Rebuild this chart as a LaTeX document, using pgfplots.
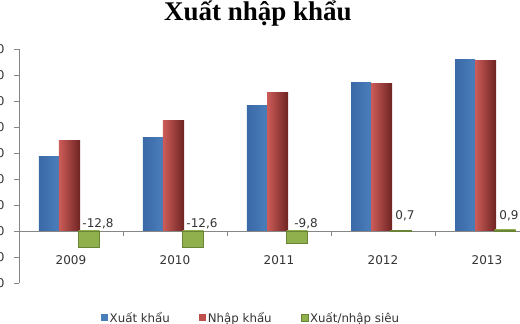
\documentclass[border=0pt]{standalone}
\usepackage{fontspec}
\setmainfont{DejaVu Sans}
\newfontfamily\titlefont{Liberation Serif}
\usepackage{pgfplots}
\pgfplotsset{compat=1.18}
\definecolor{bM}{HTML}{4A7EBB}
\definecolor{bL}{HTML}{5E92D2}
\definecolor{bD}{HTML}{3A69A6}
\definecolor{rM}{HTML}{C0504D}
\definecolor{rL}{HTML}{CC5C59}
\definecolor{rD}{HTML}{6E2422}
\definecolor{gM}{HTML}{8FB04C}
\definecolor{gL}{HTML}{B9D670}
\definecolor{gD}{HTML}{6A8436}
\definecolor{axgray}{HTML}{868686}
\definecolor{txt}{HTML}{333333}
\pgfplotstableread{
x exp imp bal
0 57.1 69.9 -12.8
1 72.2 84.8 -12.6
2 96.9 106.7 -9.8
3 114.6 113.8 0.7
4 132.2 131.3 0.9
}\data
\pgfplotsset{
  bluebar/.style={ybar, bar width=20pt, bar shift=-22pt, draw=none,
    left color=bD, middle color=bL, right color=bM},
  redbar/.style={ybar, bar width=21pt, bar shift=-1.5pt, draw=none,
    left color=rL, middle color=rM, right color=rD},
  greenbar/.style={ybar, bar width=21pt, bar shift=18pt, draw=gD, line width=0.6pt,
    left color=gM, middle color=gL, right color=gM},
}
\begin{document}
\begin{tikzpicture}[x=1pt,y=1pt]
\clip (-19,-41) rectangle (501,283);
\begin{axis}[
  at={(0,0)}, anchor=south west,
  scale only axis, width=520pt, height=234pt,
  xmin=-0.5, xmax=4.5, ymin=-40, ymax=140,
  axis x line*=middle, axis y line*=left,
  axis line style={axgray},
  ytick={-40,-20,...,140},
  yticklabel style={font=\fontsize{12}{14}\selectfont, text=txt, xshift=-6pt},
  ytick style={axgray},
  major tick length=5pt,
  tick align=outside,
  /pgf/number format/assume math mode=true,
  xtick={0,...,4},
  xticklabels={2009,2010,2011,2012,2013},
  xtick style={draw=none},
  xticklabel style={font=\fontsize{12}{14}\selectfont, text=txt, yshift=-16pt},
  extra x ticks={-0.5,0.5,...,4.5},
  extra x tick labels={},
  extra x tick style={xtick style={draw=axgray}, major tick length=5pt},
  title={\titlefont\bfseries Xuất nhập khẩu},
  title style={at={(0.4596,1.098)}, anchor=base, font=\fontsize{27}{30}\selectfont},
  legend style={at={(0.446,-0.149)}, anchor=center, draw=none, fill=none,
    legend columns=3, font=\fontsize{11.8}{14}\selectfont, text=txt,
    /tikz/every even column/.append style={column sep=28pt},
    /tikz/every node/.append style={inner sep=1.5pt}},
  legend image code/.code={\fill[#1] (0pt,-3.5pt) rectangle (7pt,3.5pt);},
  clip=false,
]
\pgfplotsinvokeforeach{0,...,4}{
  \addplot[bluebar, forget plot, restrict x to domain=#1:#1] table[x=x,y=exp] {\data};
  \addplot[redbar, forget plot, restrict x to domain=#1:#1] table[x=x,y=imp] {\data};
  \addplot[greenbar, forget plot, restrict x to domain=#1:#1] table[x=x,y=bal] {\data};
}
\addlegendimage{fill=bM, draw=none}
\addlegendentry{Xuất khẩu}
\addlegendimage{fill=rM, draw=none}
\addlegendentry{Nhập khẩu}
\addlegendimage{fill=gM, draw=gD}
\addlegendentry{Xuất/nhập siêu}
\addplot[forget plot, draw=none, mark=none, nodes near coords, point meta=explicit symbolic,
  every node near coord/.append style={anchor=south, xshift=27pt, yshift=1pt,
    font=\fontsize{12}{14}\selectfont, text=txt, inner sep=1pt}]
  table[x=x, y=y, meta=lab, row sep=\\] {x y lab\\ 0 0 -12,8\\ 1 0 -12,6\\ 2 0 -9,8\\};
\addplot[forget plot, draw=none, mark=none, nodes near coords, point meta=explicit symbolic,
  every node near coord/.append style={anchor=south, xshift=22pt, yshift=8pt,
    font=\fontsize{12}{14}\selectfont, text=txt, inner sep=1pt}]
  table[x=x, y=y, meta=lab, row sep=\\] {x y lab\\ 3 0.7 0,7\\ 4 0.9 0,9\\};
\end{axis}
\end{tikzpicture}
\end{document}
